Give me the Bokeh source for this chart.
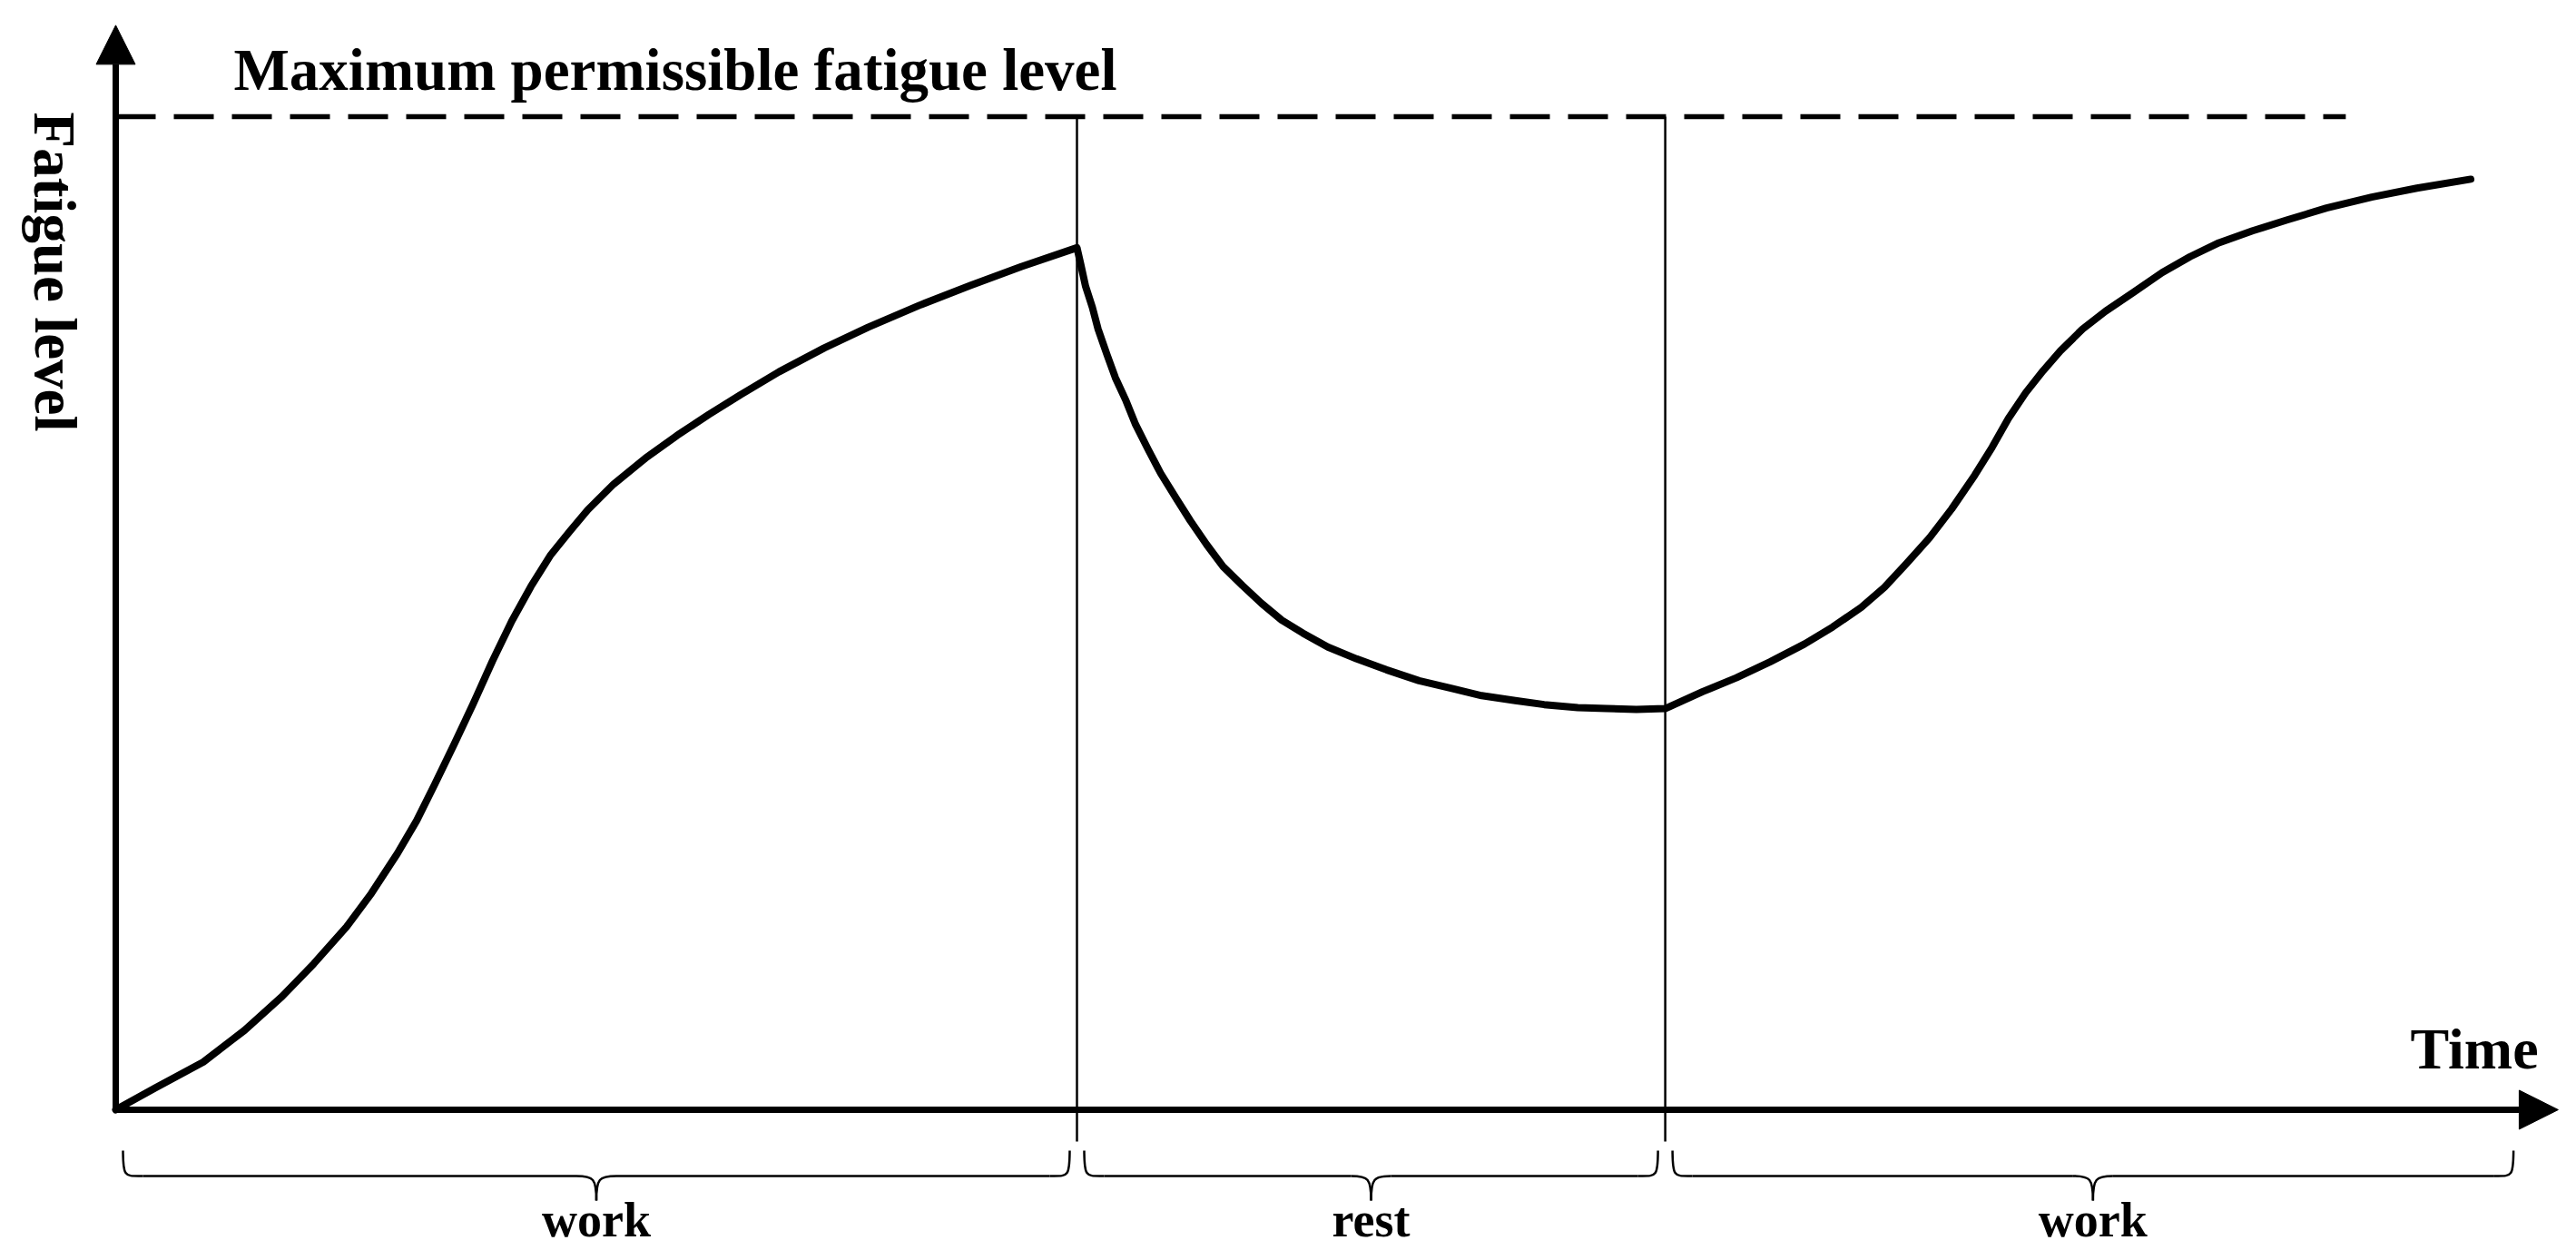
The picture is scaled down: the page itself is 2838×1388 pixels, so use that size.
from bokeh.plotting import figure
from bokeh.models import Range1d, Arrow, NormalHead
from bokeh.core.properties import value
from bokeh.embed import file_html
from bokeh.resources import INLINE

# ---------------- data (time units, fatigue in % of maximum permissible) -------------
work1_t = [0, 4.1, 9.1, 13.4, 17.3, 20.6, 24.0, 26.6, 29.3, 31.3, 33.2, 35.2, 37.2, 39.2,
           41.2, 43.2, 45.2, 47.2, 49.1, 51.8, 55.1, 58.4, 61.7, 65.0, 69.0, 73.7, 78.3,
           83.6, 88.9, 94.2, 100]
work1_f = [0, 2.2, 4.8, 8.0, 11.4, 14.7, 18.4, 21.8, 25.8, 29.1, 32.8, 36.8, 40.9, 45.2,
           49.2, 52.7, 55.8, 58.2, 60.4, 63.0, 65.6, 67.9, 70.0, 72.0, 74.3, 76.7, 78.8,
           81.0, 83.0, 84.9, 86.8]

rest_t = [100.4, 100.9, 101.6, 102.2, 103.1, 104.0, 105.1, 106.1, 107.4, 108.7, 110.3,
          111.8, 113.5, 115.2, 117.2, 119.2, 121.3, 123.5, 126.1, 129.1, 132.2, 135.6,
          139.1, 142.1, 145.6, 148.6, 152.1, 155.1, 158.2, 161.2]
rest_f = [85.1, 82.9, 80.8, 78.6, 76.1, 73.7, 71.4, 69.0, 66.5, 64.1, 61.6, 59.3, 56.9,
          54.7, 52.8, 51.0, 49.3, 48.0, 46.6, 45.4, 44.3, 43.2, 42.4, 41.7, 41.2, 40.8,
          40.5, 40.4, 40.3, 40.4]

work2_t = [165.1, 168.6, 172.1, 175.7, 178.6, 181.6, 184.0, 186.3, 188.7, 191.0, 193.4,
           195.2, 196.9, 198.7, 200.5, 202.3, 204.6, 207.0, 209.9, 212.9, 215.8, 218.8,
           222.3, 225.9, 230.0, 234.7, 239.4, 245.0]
work2_f = [42.1, 43.5, 45.1, 46.9, 48.6, 50.6, 52.6, 55.0, 57.6, 60.5, 63.9, 66.7, 69.6,
           72.2, 74.4, 76.4, 78.6, 80.4, 82.3, 84.3, 85.9, 87.3, 88.5, 89.6, 90.8, 91.9,
           92.8, 93.7]

max_level = 100
max_line_end = 232.0
phase_edges = [0, 100, 161.2, 250.2]
phase_labels = ["work", "rest", "work"]
y_axis_top = 109.2
x_axis_end = 254.1

title_text = "Maximum permissible fatigue level"
y_label = "Fatigue level"
x_label = "Time"

# ---------------- geometry of the page ---------------------------------------------
W, H = 2822, 1372
SX, SY = 10.59, 10.94          # pixels per data unit
OX, OY = 127, 1222             # page pixel position of the origin
FONT = value("Liberation Serif")


def tx(px):
    return (px - OX) / SX


def fy(py):
    return (OY - py) / SY


p = figure(width=W, height=H, output_backend="svg", toolbar_location=None,
           x_range=Range1d(tx(0), tx(W)), y_range=Range1d(fy(H), fy(0)),
           x_axis_location=None, y_axis_location=None, min_border=0)
p.grid.visible = False
p.outline_line_color = None
p.background_fill_color = "white"
p.border_fill_color = "white"

# axes with arrow heads
p.add_layout(Arrow(end=NormalHead(size=43, fill_color="black", line_color="black", line_width=1),
                   x_start=0, y_start=0, x_end=0, y_end=y_axis_top,
                   line_width=7, line_color="black"))
p.add_layout(Arrow(end=NormalHead(size=43, fill_color="black", line_color="black", line_width=1),
                   x_start=0, y_start=0, x_end=x_axis_end, y_end=0,
                   line_width=7, line_color="black"))

# maximum permissible level
p.line([0, max_line_end], [max_level, max_level], line_width=5.5, line_color="black",
       line_dash="44 20")

# phase boundaries
bounds = phase_edges[1:-1]
p.segment(x0=bounds, y0=[max_level] * len(bounds), x1=bounds, y1=[fy(1257)] * len(bounds),
          line_width=2.5, line_color="black")

# fatigue curve
curve_t = work1_t + rest_t + work2_t
curve_f = work1_f + rest_f + work2_f
p.line(curve_t, curve_f, line_width=8, line_color="black", line_cap="round",
       line_join="round")

# braces under each phase
y0p, y1p, y2p, r, inset = 1267, 1295, 1322, 22, 8
bz = dict(x0=[], y0=[], x1=[], y1=[], cx0=[], cy0=[], cx1=[], cy1=[])
seg = dict(x0=[], y0=[], x1=[], y1=[])
centers = []


def add_bez(a, b, c0, c1):
    bz["x0"].append(tx(a[0])); bz["y0"].append(fy(a[1]))
    bz["x1"].append(tx(b[0])); bz["y1"].append(fy(b[1]))
    bz["cx0"].append(tx(c0[0])); bz["cy0"].append(fy(c0[1]))
    bz["cx1"].append(tx(c1[0])); bz["cy1"].append(fy(c1[1]))


for a, b in zip(phase_edges[:-1], phase_edges[1:]):
    L = OX + a * SX + inset
    R = OX + b * SX - inset
    C = (L + R) / 2
    centers.append(tx(C))
    for s, E in ((1, L), (-1, R)):
        add_bez((E, y0p), (E + s * r, y1p), (E, y1p + 2), (E + s * 2, y1p))
        seg["x0"].append(tx(E + s * r)); seg["y0"].append(fy(y1p))
        seg["x1"].append(tx(C - s * r)); seg["y1"].append(fy(y1p))
        add_bez((C - s * r, y1p), (C, y2p), (C - s * 3, y1p), (C, y1p + 3))

p.bezier(**bz, line_width=2.5, line_color="black")
p.segment(**seg, line_width=2.5, line_color="black")

# texts
p.text(x=centers, y=[fy(1343)] * len(centers), text=phase_labels, text_font=FONT,
       text_font_style="bold", text_font_size="54px", text_align="center",
       text_baseline="alphabetic", text_color="black")
p.text(x=[tx(257)], y=[fy(76)], text=[title_text], text_font=FONT, text_font_style="bold",
       text_font_size="65px", text_align="left", text_baseline="alphabetic", text_color="black")
p.text(x=[tx(2655)], y=[fy(1155)], text=[x_label], text_font=FONT, text_font_style="bold",
       text_font_size="64px", text_align="left", text_baseline="alphabetic", text_color="black")
p.text(x=[tx(60)], y=[fy(299)], text=[y_label], text_font=FONT, text_font_style="bold",
       text_font_size="65px", text_align="center", text_baseline="middle",
       angle=-1.5707963, text_color="black")

open("out.html", "w").write(file_html(p, INLINE))
